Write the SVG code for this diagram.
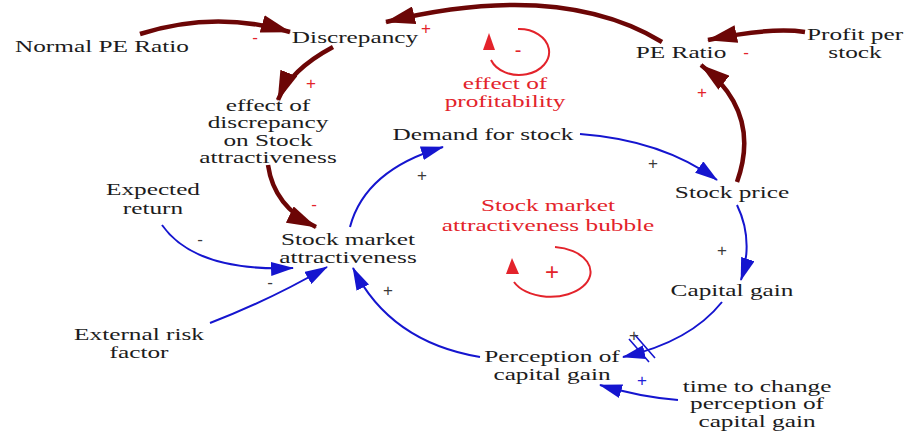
<svg xmlns="http://www.w3.org/2000/svg" width="906" height="435" viewBox="0 0 906 435">
  <style>
    .t { font-family: "Liberation Serif", "Times New Roman", serif; font-size: 16px; fill: #1c1c1c; text-anchor: middle; }
    .loopt { font-family: "Liberation Serif", "Times New Roman", serif; font-size: 16px; fill: #e3232b; text-anchor: middle; }
    .sign { font-family: "Liberation Sans", Arial, sans-serif; font-size: 17px; text-anchor: middle; }
    .sd { fill: #3a3a3a; }
    .sr { fill: #e3232b; }
    .sb { fill: #2020d8; }
    .strong { fill: none; stroke: #6c0606; stroke-width: 4.5; }
    .weak { fill: none; stroke: #1515cf; stroke-width: 2; }
    .loop { fill: none; stroke: #e3232b; stroke-width: 2; }
  </style>
  <defs>
    <marker id="headStrong" markerUnits="userSpaceOnUse" markerWidth="32" markerHeight="18" refX="29" refY="9" orient="auto">
      <path d="M0,0 L30,9 L0,18 z" fill="#6c0606"/>
    </marker>
    <marker id="headWeak" markerUnits="userSpaceOnUse" markerWidth="24" markerHeight="14" refX="22" refY="7" orient="auto">
      <path d="M0,0 L23,7 L0,14 z" fill="#1515cf"/>
    </marker>
  </defs>

  <rect width="906" height="435" fill="#ffffff"/>

  <!-- connectors -->
  <g id="connectors">
    <!-- price / earnings links -->
    <path class="strong" marker-end="url(#headStrong)" d="M140,34 Q215,10 290,32"/>
    <path class="strong" marker-end="url(#headStrong)" d="M662,42 Q560,-20 386,22"/>
    <path class="strong" marker-end="url(#headStrong)" d="M805,32 Q770,27 708,40"/>
    <path class="strong" marker-end="url(#headStrong)" d="M737,182 Q762,112 701,65"/>
    <path class="strong" marker-end="url(#headStrong)" d="M333,47 Q290,70 278,100"/>
    <path class="strong" marker-end="url(#headStrong)" d="M268,165 Q274,207 316,227"/>

    <!-- attractiveness loop -->
    <path class="weak" marker-end="url(#headWeak)" d="M350,227 Q365,170 443,147"/>
    <path class="weak" marker-end="url(#headWeak)" d="M580,134 Q662,140 717,180"/>
    <path class="weak" marker-end="url(#headWeak)" d="M737,205 Q754,240 741,280"/>
    <path class="weak" marker-end="url(#headWeak)" d="M722,302 Q690,342 623,357"/>
    <path class="weak" marker-end="url(#headWeak)" d="M480,357 Q390,342 353,268"/>

    <!-- external inputs -->
    <path class="weak" marker-end="url(#headWeak)" d="M162,225 Q195,272 293,268"/>
    <path class="weak" marker-end="url(#headWeak)" d="M210,323 Q270,300 327,267"/>
    <path class="weak" marker-end="url(#headWeak)" d="M678,400 Q640,397 600,385"/>

    <!-- delay mark -->
    <path d="M629,339 L649,362 M635,335 L655,358" stroke="#1515cf" stroke-width="1.6" fill="none"/>

    <!-- polarities -->
    <text class="sign sr" x="255" y="43">-</text>
    <text class="sign sr" x="426" y="34">+</text>
    <text class="sign sr" x="311" y="89">+</text>
    <text class="sign sr" x="314" y="210">-</text>
    <text class="sign sr" x="746" y="58">-</text>
    <text class="sign sr" x="702" y="98">+</text>
    <text class="sign sd" x="422" y="181">+</text>
    <text class="sign sd" x="653" y="169">+</text>
    <text class="sign sd" x="722" y="256">+</text>
    <text class="sign sd" x="634" y="341">+</text>
    <text class="sign sd" x="388" y="296">+</text>
    <text class="sign sd" x="200" y="245">-</text>
    <text class="sign sd" x="270" y="288">-</text>
    <text class="sign sb" x="642" y="386">+</text>
  </g>

  <!-- loop markers -->
  <g id="loop-profitability">
    <path class="loop" d="M518,29 A30,23 0 1,1 491,60"/>
    <polygon points="483,50 495,50 489,33" fill="#e3232b"/>
    <text class="sign sr" x="518" y="57" style="font-size:20px">-</text>
    <g transform="translate(505,89) scale(1.58,1)">
      <text class="loopt"><tspan x="0" y="0">effect of</tspan><tspan x="0" y="18">profitability</tspan></text>
    </g>
  </g>
  <g id="loop-bubble">
    <path class="loop" d="M555,247 A40,25 0 1,1 514,282"/>
    <polygon points="506,274 519,274 512,258" fill="#e3232b"/>
    <text class="sign sr" x="552" y="280" style="font-size:24px">+</text>
    <g transform="translate(548,211) scale(1.58,1)">
      <text class="loopt"><tspan x="0" y="0">Stock market</tspan><tspan x="0" y="20">attractiveness bubble</tspan></text>
    </g>
  </g>

  <!-- variables -->
  <g id="normal-pe-ratio" transform="translate(102,52) scale(1.58,1)">
    <text class="t">Normal PE Ratio</text>
  </g>
  <g id="discrepancy" transform="translate(355,43) scale(1.58,1)">
    <text class="t">Discrepancy</text>
  </g>
  <g id="pe-ratio" transform="translate(681,58) scale(1.58,1)">
    <text class="t">PE Ratio</text>
  </g>
  <g id="profit-per-stock" transform="translate(855,40) scale(1.58,1)">
    <text class="t"><tspan x="0" y="0">Profit per</tspan><tspan x="0" y="18">stock</tspan></text>
  </g>
  <g id="effect-of-discrepancy" transform="translate(268,111) scale(1.58,1)">
    <text class="t"><tspan x="0" y="0">effect of</tspan><tspan x="0" y="17.5">discrepancy</tspan><tspan x="0" y="35">on Stock</tspan><tspan x="0" y="52.5">attractiveness</tspan></text>
  </g>
  <g id="demand-for-stock" transform="translate(483,140) scale(1.58,1)">
    <text class="t">Demand for stock</text>
  </g>
  <g id="stock-price" transform="translate(732,198) scale(1.58,1)">
    <text class="t">Stock price</text>
  </g>
  <g id="expected-return" transform="translate(153,195) scale(1.58,1)">
    <text class="t"><tspan x="0" y="0">Expected</tspan><tspan x="0" y="19">return</tspan></text>
  </g>
  <g id="stock-market-attractiveness" transform="translate(348,245) scale(1.58,1)">
    <text class="t"><tspan x="0" y="0">Stock market</tspan><tspan x="0" y="18">attractiveness</tspan></text>
  </g>
  <g id="capital-gain" transform="translate(732,296) scale(1.58,1)">
    <text class="t">Capital gain</text>
  </g>
  <g id="external-risk-factor" transform="translate(139,340) scale(1.58,1)">
    <text class="t"><tspan x="0" y="0">External risk</tspan><tspan x="0" y="18">factor</tspan></text>
  </g>
  <g id="perception-of-capital-gain" transform="translate(552,362) scale(1.58,1)">
    <text class="t"><tspan x="0" y="0">Perception of</tspan><tspan x="0" y="18">capital gain</tspan></text>
  </g>
  <g id="time-to-change-perception" transform="translate(757,392) scale(1.58,1)">
    <text class="t"><tspan x="0" y="0">time to change</tspan><tspan x="0" y="17.5">perception of</tspan><tspan x="0" y="35">capital gain</tspan></text>
  </g>
</svg>
